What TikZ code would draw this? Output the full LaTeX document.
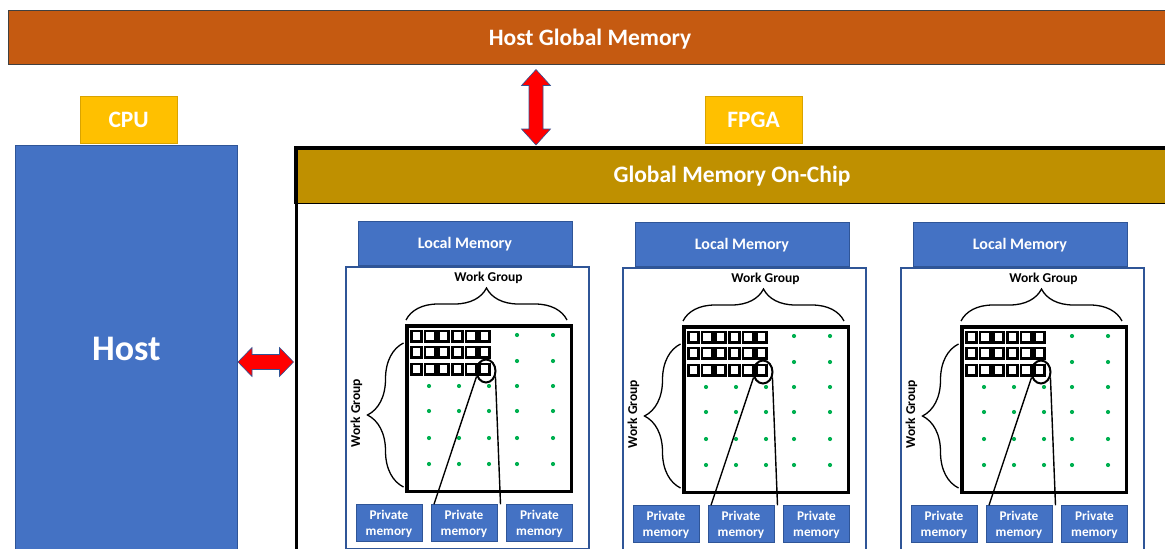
\documentclass[tikz,border=0pt]{standalone}
\usepackage{fontspec}
\setmainfont{Carlito}
\usetikzlibrary{decorations.pathreplacing,shapes.geometric,calc}
\definecolor{hgmcol}{HTML}{C55A11}
\definecolor{ylw}{HTML}{FFC000}
\definecolor{blu}{HTML}{4472C4}
\definecolor{dblu}{HTML}{2F5597}
\definecolor{goldc}{HTML}{BF9000}
\definecolor{grn}{HTML}{00B050}
\begin{document}
\begin{tikzpicture}[x=1pt,y=-1pt,
  box/.style={draw=dblu, line width=0.8pt, inner sep=0pt, outer sep=0pt, font=\bfseries, text=white, align=center, text depth=0pt},
  bigtxt/.style={font=\bfseries\fontsize{23.5}{28}\selectfont},
  wgtxt/.style={font=\bfseries\fontsize{13.5}{16}\selectfont, text=black, inner sep=0pt, text depth=0pt},
  pmtxt/.style={font=\bfseries\fontsize{13.3}{16}\selectfont},
  bracedeco/.style={decorate, decoration={brace, amplitude=#1}, line width=1.3pt},
  sqbox/.style={line width=2.7pt},
  gdot/.style={fill=grn},
  redarrow/.style={fill=red, draw=dblu, line width=0.6pt},
  zoomline/.style={line width=1.4pt}]
\useasboundingbox (0,0) rectangle (1165,549);
\clip (0,0) rectangle (1165,549);

% Host global memory
\node[box, draw=black!75, fill=hgmcol, minimum width=1164, minimum height=54, bigtxt] (hgm) at (590,37) {Host Global Memory};

% CPU / FPGA labels
\node[box, draw=ylw!85!black, fill=ylw, minimum width=97, minimum height=47, bigtxt] (cpu) at (128.7,119.5) {CPU};
\node[box, draw=ylw!85!black, fill=ylw, minimum width=97, minimum height=47, bigtxt] (fpgalbl) at (753.5,119.5) {FPGA};

% Host
\node[box, fill=blu, minimum width=222.5, minimum height=408, font=\bfseries\fontsize{36}{40}\selectfont] (host) at (126.3,349) {Host};

% FPGA box and global memory band
\node[box, draw=black, fill=goldc, minimum width=878, minimum height=57, anchor=north west, bigtxt] (gmoc) at (294,146) {\hspace*{-2pt}Global Memory On-Chip};
\node[draw=black, line width=3pt, minimum width=878, minimum height=420, anchor=north west, inner sep=0pt] (fpga) at (294.5,146.5) {};

% Panels
\foreach \i/\dx/\dy in {1/0/0,2/277/1,3/555/1}{
\begin{scope}[shift={(\dx,\dy)}]
  \node[box, fill=blu, minimum width=214, minimum height=44, font=\bfseries\fontsize{16}{19}\selectfont] (lm\i) at (465,243) {Local Memory};
  \node[draw=dblu, line width=2pt, minimum width=242.5, minimum height=282, anchor=north west, inner sep=0pt] (pn\i) at (345,265.5) {};
  \node[wgtxt] (wgt\i) at (488.5,277) {Work Group};
  \node[wgtxt, rotate=90] (wgl\i) at (355.5,413) {Work Group};
  \draw[bracedeco=32pt] (406,320) -- (567,320);
  \draw[bracedeco=36pt] (403.5,487) -- (403.5,343);
  \draw[line width=3.5pt] (407,325.8) rectangle (571.5,491.5);
  \foreach \cx in {410,423.5,437,451,464.5,478}
    \foreach \ry in {329.5,345.5,362.5}
      \draw[sqbox] (\cx+1.35,\ry+1.35) rectangle ++(10.3,10.3);
  \foreach \px in {517,553}
    \foreach \py in {335,361}
      \fill[gdot] (\px,\py) circle (2.1);
  \foreach \px in {429,459,489,517,553}
    \foreach \py in {386,411,438,464}
      \fill[gdot] (\px,\py) circle (2.1);
  \node[draw, ellipse, line width=2pt, minimum width=19, minimum height=23, inner sep=0pt] (cir\i) at (486,371) {};
  \node[box, fill=blu, minimum width=66, minimum height=37.5, pmtxt] (pa\i) at (389,523) {Private\\memory};
  \node[box, fill=blu, minimum width=66, minimum height=37.5, pmtxt] (pb\i) at (464,523) {Private\\memory};
  \node[box, fill=blu, minimum width=66, minimum height=37.5, pmtxt] (pc\i) at (539.5,523) {Private\\memory};
  \draw[zoomline] (cir\i.210) -- ($(pb\i.north west)+(3,0)$);
  \draw[zoomline] (cir\i.-30) -- ($(pb\i.north east)+(3.5,0)$);
\end{scope}
}

% Red double arrows
\draw[redarrow] (536,69.5) -- (550.5,85.5) -- (543,85.5) -- (543,129) -- (550.5,129) -- (536,145) -- (521.5,129) -- (529,129) -- (529,85.5) -- (521.5,85.5) -- cycle;
\draw[redarrow] (238,362) -- (252,347.5) -- (252,354.5) -- (279.5,354.5) -- (279.5,347.5) -- (293.5,362) -- (279.5,376.5) -- (279.5,369.5) -- (252,369.5) -- (252,376.5) -- cycle;
\end{tikzpicture}
\end{document}
